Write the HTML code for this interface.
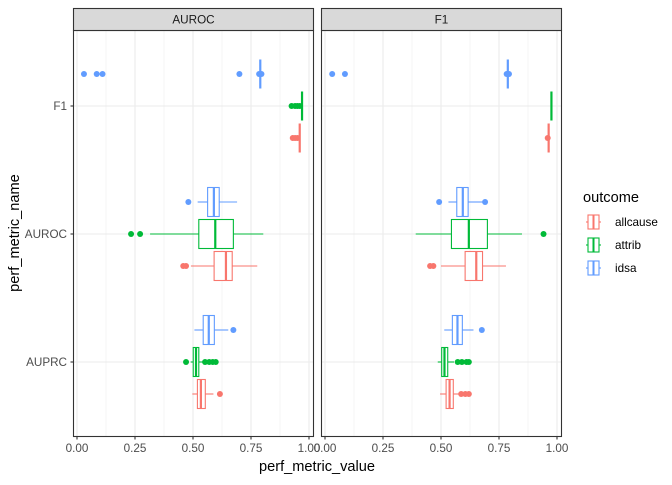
<!DOCTYPE html>
<html><head><meta charset="utf-8"><style>
body{margin:0;background:#fff}
svg{font-family:"Liberation Sans",Arial,sans-serif}
</style></head><body>
<svg id="c" width="672" height="480" xmlns="http://www.w3.org/2000/svg"></svg>
<script>
const panels = ["AUROC","F1"];
const rows = ["F1","AUROC","AUPRC"];
const outcomes = ["allcause","attrib","idsa"];
const colors = {allcause:"#F8766D",attrib:"#00BA38",idsa:"#619CFF"};
const xTicks = [0,0.25,0.5,0.75,1];
const xTickLabels = ["0.00","0.25","0.50","0.75","1.00"];
// stats [low whisker, q1, median, q3, high whisker]
const statsAUROC = {
 F1:{allcause:[0.96,0.96,0.96,0.96,0.96],attrib:[0.97,0.97,0.97,0.97,0.97],idsa:[0.79,0.79,0.79,0.79,0.79]},
 AUROC:{allcause:[0.491,0.591,0.642,0.669,0.777],attrib:[0.315,0.525,0.596,0.674,0.803],idsa:[0.52,0.563,0.59,0.613,0.69]},
 AUPRC:{allcause:[0.497,0.519,0.534,0.553,0.588],attrib:[0.49,0.501,0.513,0.525,0.544],idsa:[0.506,0.544,0.568,0.592,0.652]}
};
const outAUROC = {
 F1:{allcause:[0.93,0.94,0.95],attrib:[0.925,0.94,0.95,0.96],idsa:[0.03,0.085,0.11,0.70,0.785,0.795]},
 AUROC:{allcause:[0.458,0.47],attrib:[0.233,0.272],idsa:[0.48]},
 AUPRC:{allcause:[0.616],attrib:[0.47,0.552,0.57,0.585,0.598],idsa:[0.674]}
};
const statsF1 = {
 F1:{allcause:[0.964,0.964,0.964,0.964,0.964],attrib:[0.976,0.976,0.976,0.976,0.976],idsa:[0.788,0.788,0.788,0.788,0.788]},
 AUROC:{allcause:[0.5,0.604,0.652,0.679,0.78],attrib:[0.391,0.545,0.62,0.70,0.849],idsa:[0.532,0.568,0.594,0.617,0.685]},
 AUPRC:{allcause:[0.496,0.522,0.537,0.553,0.58],attrib:[0.486,0.503,0.515,0.529,0.556],idsa:[0.514,0.549,0.571,0.592,0.64]}
};
const outF1 = {
 F1:{allcause:[0.96],attrib:[],idsa:[0.031,0.086,0.783,0.793]},
 AUROC:{allcause:[0.453,0.467],attrib:[0.942],idsa:[0.492,0.69]},
 AUPRC:{allcause:[0.587,0.605,0.62],attrib:[0.572,0.59,0.61,0.62],idsa:[0.676]}
};
const panelStats=[statsAUROC,statsF1], panelOut=[outAUROC,outF1];
const NS="http://www.w3.org/2000/svg", svg=document.getElementById("c");
function mk(t,a,p){const e=document.createElementNS(NS,t);for(const k in a)e.setAttribute(k,a[k]);(p||svg).appendChild(e);return e;}
const pLeft=[73.5,321.5], pW=240, pTop=30.5, pBottom=436.5;
function xs(p,v){return pLeft[p]+3.5+v*232;}
function ys(r){return 106+r*128;}
const dodge={allcause:32,attrib:0,idsa:-32};
panels.forEach((pn,p)=>{
 const g=mk("g",{});
 
 
 mk("rect",{x:pLeft[p],y:pTop,width:pW,height:pBottom-pTop,fill:"#fff"},g);
 for(let i=0;i<4;i++){const v=xTicks[i]+0.125;mk("line",{x1:xs(p,v),x2:xs(p,v),y1:pTop,y2:pBottom,stroke:"#ebebeb","stroke-width":0.5},g);}
 xTicks.forEach(v=>mk("line",{x1:xs(p,v),x2:xs(p,v),y1:pTop,y2:pBottom,stroke:"#ebebeb","stroke-width":1.1},g));
 rows.forEach((r,ri)=>mk("line",{x1:pLeft[p],x2:pLeft[p]+pW,y1:ys(ri),y2:ys(ri),stroke:"#ebebeb","stroke-width":1.1},g));
 rows.forEach((r,ri)=>{
  outcomes.forEach(o=>{
   const s=panelStats[p][r][o], c=colors[o], yc=ys(ri)+dodge[o], h=14.5;
   const b=mk("g",{},g);
   
   
   mk("line",{x1:xs(p,s[0]),x2:xs(p,s[1]),y1:yc,y2:yc,stroke:c,"stroke-width":1.1},b);
   mk("line",{x1:xs(p,s[3]),x2:xs(p,s[4]),y1:yc,y2:yc,stroke:c,"stroke-width":1.1},b);
   mk("rect",{x:xs(p,s[1]),y:yc-h,width:Math.max(0,xs(p,s[3])-xs(p,s[1])),height:2*h,fill:"#fff",stroke:c,"stroke-width":1.1},b);
   mk("line",{x1:xs(p,s[2]),x2:xs(p,s[2]),y1:yc-h,y2:yc+h,stroke:c,"stroke-width":2.2},b);
   panelOut[p][r][o].forEach(v=>{const pt=mk("circle",{cx:xs(p,v),cy:yc,r:3,fill:c},b);
    
    });
  });
 });
 mk("rect",{x:pLeft[p],y:pTop,width:pW,height:pBottom-pTop,fill:"none",stroke:"#333","stroke-width":1.1},g);
 const st=mk("g",{});
 
 
 mk("rect",{x:pLeft[p],y:8.5,width:pW,height:22,fill:"#d9d9d9",stroke:"#333","stroke-width":1.1},st);
 const tt=mk("text",{x:pLeft[p]+pW/2,y:23.5,"text-anchor":"middle","font-size":"11.7","fill":"#1a1a1a"},st);tt.textContent=pn;
 xTicks.forEach((v,i)=>{
  mk("line",{x1:xs(p,v),x2:xs(p,v),y1:pBottom,y2:pBottom+3,stroke:"#333","stroke-width":1.1});
  const t=mk("text",{x:xs(p,v),y:452,"text-anchor":"middle","font-size":"11.7",fill:"#4d4d4d"});t.textContent=xTickLabels[i];
  
  
 });
});
rows.forEach((r,ri)=>{
 mk("line",{x1:70.5,x2:73.5,y1:ys(ri),y2:ys(ri),stroke:"#333","stroke-width":1.1});
 const t=mk("text",{x:67,y:ys(ri)+4,"text-anchor":"end","font-size":"11.7",fill:"#4d4d4d"});t.textContent=r;
 
 
});
const xt=mk("text",{x:317,y:471,"text-anchor":"middle","font-size":"14.6",fill:"#000"});xt.textContent="perf_metric_value";


const yt=mk("text",{x:19,y:233,"text-anchor":"middle","font-size":"14.6",fill:"#000",transform:"rotate(-90 19 233)"});yt.textContent="perf_metric_name";


const lg=mk("g",{});


const lt=mk("text",{x:583,y:202,"font-size":"14.6",fill:"#000"},lg);lt.textContent="outcome";
outcomes.forEach((o,i)=>{
 const yc=222+i*23, c=colors[o];
 const e=mk("g",{},lg);
 
 
 mk("line",{x1:586,x2:601,y1:yc,y2:yc,stroke:c,"stroke-width":1.1},e);
 mk("rect",{x:588,y:yc-7,width:11,height:14,fill:"#fff",stroke:c,"stroke-width":1.1},e);
 mk("line",{x1:593.5,x2:593.5,y1:yc-7,y2:yc+7,stroke:c,"stroke-width":2},e);
 const t=mk("text",{x:615,y:yc+4,"font-size":"11.7",fill:"#000"},e);t.textContent=o;
});
</script>
</body></html>
